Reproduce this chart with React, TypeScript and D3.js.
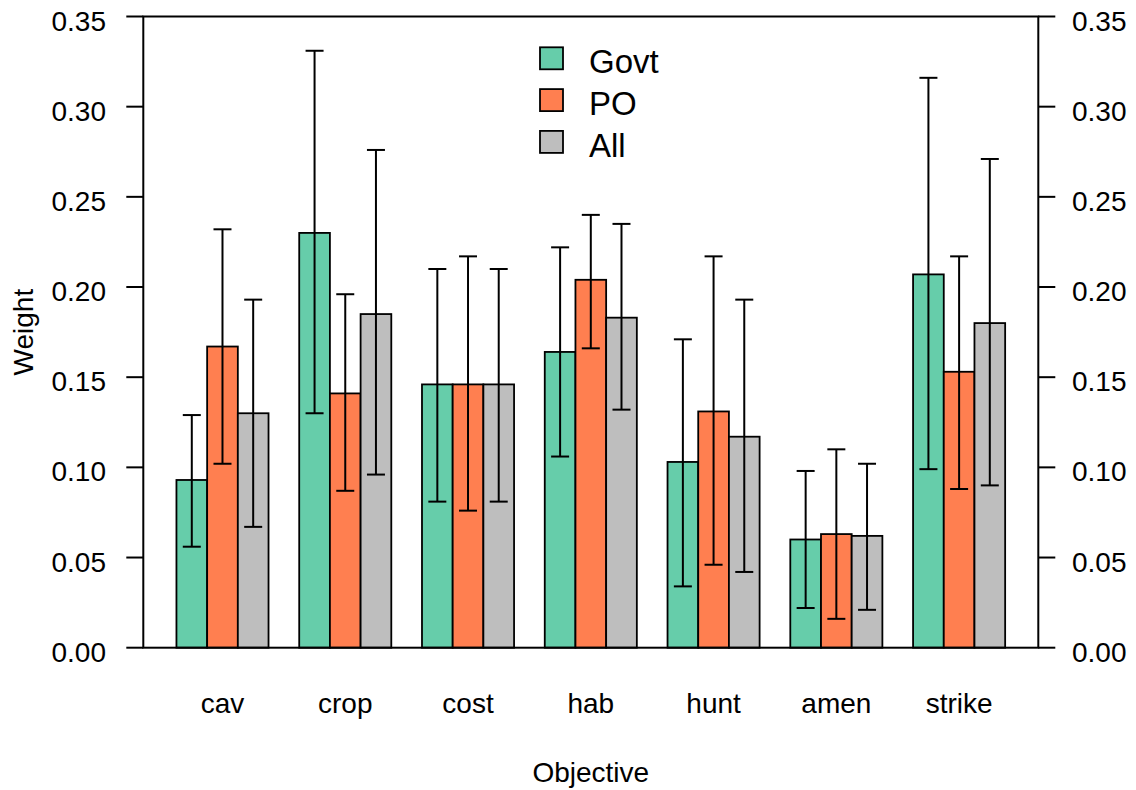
import React from "react";
import * as d3 from "d3";

// objectives on the x axis
const categories = ["cav", "crop", "cost", "hab", "hunt", "amen", "strike"];
const seriesNames = ["Govt", "PO", "All"];
const seriesColors = ["#66CDAA", "#FF7F50", "#BEBEBE"];

// mean weights and interval ends
const govt = [0.093, 0.230, 0.146, 0.164, 0.103, 0.060, 0.207];
const govtLo = [0.056, 0.130, 0.081, 0.106, 0.034, 0.022, 0.099];
const govtHi = [0.129, 0.331, 0.210, 0.222, 0.171, 0.098, 0.316];

const po = [0.167, 0.141, 0.146, 0.204, 0.131, 0.063, 0.153];
const poLo = [0.102, 0.087, 0.076, 0.166, 0.046, 0.016, 0.088];
const poHi = [0.232, 0.196, 0.217, 0.240, 0.217, 0.110, 0.217];

const all = [0.130, 0.185, 0.146, 0.183, 0.117, 0.062, 0.180];
const allLo = [0.067, 0.096, 0.081, 0.132, 0.042, 0.021, 0.090];
const allHi = [0.193, 0.276, 0.210, 0.235, 0.193, 0.102, 0.271];

const yTicks = [0, 0.05, 0.1, 0.15, 0.2, 0.25, 0.3, 0.35];

const width = 1136;
const height = 790;
const plot = { left: 143.3, right: 1038.3, top: 16.5, bottom: 647.7 };
const font = "'Liberation Sans', Arial, Helvetica, sans-serif";

export default function App() {
    const means = [govt, po, all];
    const lows = [govtLo, poLo, allLo];
    const highs = [govtHi, poHi, allHi];

    // barplot units: each group is 3 bars plus one gap before it
    const nUnits = categories.length * (seriesNames.length + 1);
    const pad = 0.04 * (nUnits - 1);
    const x = d3
        .scaleLinear()
        .domain([1 - pad, nUnits + pad])
        .range([plot.left, plot.right]);
    const y = d3
        .scaleLinear()
        .domain([0, 0.35])
        .range([plot.bottom, plot.top]);

    const barLeft = (g: number, s: number) => 1 + g * (seriesNames.length + 1) + s;
    const capHalf = 9;

    const bars: React.ReactNode[] = [];
    const errs: React.ReactNode[] = [];
    categories.forEach((c, g) => {
        seriesNames.forEach((name, s) => {
            const u = barLeft(g, s);
            const x0 = x(u);
            const x1 = x(u + 1);
            const cx = x(u + 0.5);
            bars.push(
                <rect
                    key={`b-${c}-${name}`}
                    x={x0}
                    y={y(means[s][g])}
                    width={x1 - x0}
                    height={y(0) - y(means[s][g])}
                    fill={seriesColors[s]}
                    stroke="#000"
                    strokeWidth={1.8}
                />,
            );
            const lo = y(lows[s][g]);
            const hi = y(highs[s][g]);
            errs.push(
                <g key={`e-${c}-${name}`} stroke="#000" strokeWidth={2}>
                    <line x1={cx} x2={cx} y1={lo} y2={hi} />
                    <line x1={cx - capHalf} x2={cx + capHalf} y1={lo} y2={lo} />
                    <line x1={cx - capHalf} x2={cx + capHalf} y1={hi} y2={hi} />
                </g>,
            );
        });
    });

    const groupCenter = (g: number) => x(barLeft(g, 0) + seriesNames.length / 2);
    const midY = (plot.top + plot.bottom) / 2;
    const midX = (plot.left + plot.right) / 2;

    return (
        <div style={{ position: "absolute", left: 0, top: 0 }}>
            <svg width={width} height={height} style={{ display: "block", background: "#fff" }}>
                {bars}
                {errs}

                {/* box */}
                <rect
                    x={plot.left}
                    y={plot.top}
                    width={plot.right - plot.left}
                    height={plot.bottom - plot.top}
                    fill="none"
                    stroke="#000"
                    strokeWidth={2}
                />

                {/* y axes, both sides */}
                {yTicks.map((t) => (
                    <g key={`yt-${t}`} fontFamily={font} fontSize={28} fill="#000">
                        <line x1={plot.left - 17} x2={plot.left} y1={y(t)} y2={y(t)} stroke="#000" strokeWidth={2} />
                        <line x1={plot.right} x2={plot.right + 17} y1={y(t)} y2={y(t)} stroke="#000" strokeWidth={2} />
                        <text x={106} y={y(t) + 14} textAnchor="end">
                            {t.toFixed(2)}
                        </text>
                        <text x={1072} y={y(t) + 14} textAnchor="start">
                            {t.toFixed(2)}
                        </text>
                    </g>
                ))}

                {/* category labels */}
                {categories.map((c, g) => (
                    <text
                        key={`c-${c}`}
                        x={groupCenter(g)}
                        y={713}
                        textAnchor="middle"
                        fontFamily={font}
                        fontSize={28}
                    >
                        {c}
                    </text>
                ))}

                <text x={midX} y={782} textAnchor="middle" fontFamily={font} fontSize={28}>
                    Objective
                </text>
                <text
                    transform={`translate(33,${midY}) rotate(-90)`}
                    textAnchor="middle"
                    fontFamily={font}
                    fontSize={28}
                >
                    Weight
                </text>

                {/* legend */}
                {seriesNames.map((name, s) => {
                    const cy = 58.3 + s * 41.8;
                    return (
                        <g key={`lg-${name}`}>
                            <rect
                                x={540}
                                y={cy - 11}
                                width={23}
                                height={22}
                                fill={seriesColors[s]}
                                stroke="#000"
                                strokeWidth={1.8}
                            />
                            <text x={589} y={cy + 15} fontFamily={font} fontSize={33}>
                                {name}
                            </text>
                        </g>
                    );
                })}
            </svg>
        </div>
    );
}
